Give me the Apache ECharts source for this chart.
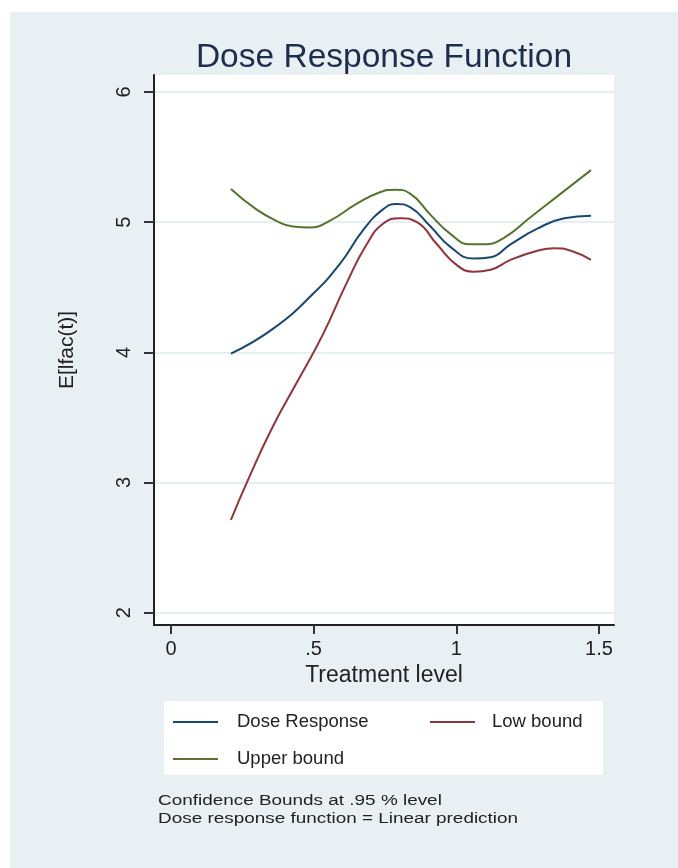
<!DOCTYPE html>
<html><head><meta charset="utf-8">
<script src="https://cdn.jsdelivr.net/npm/echarts@6/dist/echarts.min.js"></script>
<style>html,body{margin:0;padding:0;background:#fff;}#c{width:678px;height:868px;}</style>
</head><body><div id="c"></div>
<script>
// ---- data ----
const doseX = [0.210,0.357,0.498,0.592,0.674,0.744,0.791,0.838,0.908,0.979,1.061,1.120,1.190,1.284,1.378,1.472];
const doseY = [3.99,4.18,4.45,4.68,4.94,5.10,5.14,5.115,4.97,4.81,4.72,4.73,4.83,4.95,5.03,5.05];
const upperX = [0.210,0.298,0.369,0.427,0.486,0.556,0.650,0.732,0.785,0.838,0.908,0.979,1.049,1.096,1.167,1.261,1.355,1.472];
const upperY = [5.255,5.10,5.01,4.967,4.96,5.01,5.14,5.23,5.25,5.22,5.06,4.91,4.83,4.83,4.88,5.04,5.20,5.40];
const lowX = [0.210,0.275,0.357,0.439,0.533,0.615,0.686,0.744,0.803,0.862,0.932,1.002,1.061,1.120,1.190,1.284,1.343,1.402,1.472];
const lowY = [2.714,3.046,3.43,3.76,4.14,4.53,4.83,4.99,5.03,5.00,4.83,4.67,4.62,4.635,4.71,4.78,4.80,4.78,4.71];
const xTicks = [0, 0.5, 1, 1.5];
const xTickLabels = ['0', '.5', '1', '1.5'];
const yTicks = [2, 3, 4, 5, 6];
const seriesNames = ['Dose Response', 'Low bound', 'Upper bound'];
const titleText = 'Dose Response Function';
const xTitle = 'Treatment level';
const yTitle = 'E[lfac(t)]';
const noteLines = ['Confidence Bounds at .95 % level', 'Dose response function = Linear prediction'];

const zip = (xs, ys) => xs.map((x, i) => [x, ys[i]]);
const FONT = 'Liberation Sans';
const colors = {dose: '#1a476f', low: '#90353b', up: '#55752f'};

const chart = echarts.init(document.getElementById('c'), null, {renderer: 'canvas'});
const lineSeries = (name, data, color) => ({
  name, type: 'line', data, smooth: 0.5, showSymbol: false, symbol: 'none',
  lineStyle: {color, width: 2}, itemStyle: {color}, silent: true, z: 3
});
const legendCommon = {
  orient: 'horizontal', padding: 0, icon: 'rect', itemWidth: 45, itemHeight: 2,
  selectedMode: false, textStyle: {fontFamily: FONT, fontSize: 18.5, color: '#222'}
};
chart.setOption({
  backgroundColor: '#ffffff',
  animation: false,
  graphic: [
    {type: 'rect', left: 10, top: 12, shape: {width: 668, height: 856}, style: {fill: '#e8f0f3'}, z: -10, silent: true},
    {type: 'rect', left: 164, top: 701, shape: {width: 439, height: 74}, style: {fill: '#ffffff'}, z: -5, silent: true},
    {type: 'text', x: 158, y: 792, scaleX: 1.22, silent: true, z: 5,
     style: {text: noteLines.join('\n'), font: '15.5px "Liberation Sans"', fill: '#222', lineHeight: 18,
       textAlign: 'left', textVerticalAlign: 'top'}}
  ],
  title: [
    {text: titleText, left: 384, textAlign: 'center', top: 41, padding: 0,
     textStyle: {fontFamily: FONT, fontSize: 33.5, fontWeight: 'normal', color: '#1e2d4d'}}
  ],
  legend: [
    Object.assign({}, legendCommon, {data: [seriesNames[0]], left: 173, top: 712.5,
      textStyle: Object.assign({}, legendCommon.textStyle, {padding: [0, 0, 0, 14]})}),
    Object.assign({}, legendCommon, {data: [seriesNames[1]], left: 430, top: 712.5,
      textStyle: Object.assign({}, legendCommon.textStyle, {padding: [0, 0, 0, 12]})}),
    Object.assign({}, legendCommon, {data: [seriesNames[2]], left: 173, top: 749.5,
      textStyle: Object.assign({}, legendCommon.textStyle, {padding: [0, 0, 0, 14]})})
  ],
  grid: {left: 154, top: 75, width: 460, height: 550, show: true, backgroundColor: '#ffffff', borderWidth: 0, containLabel: false},
  xAxis: {
    type: 'value', min: -0.0596, max: 1.5527,
    name: xTitle, nameLocation: 'middle', nameGap: 37,
    nameTextStyle: {fontFamily: FONT, fontSize: 23, color: '#222'},
    axisLine: {show: true, onZero: false, lineStyle: {color: '#222', width: 2}},
    axisTick: {show: true, length: 9, lineStyle: {color: '#333', width: 2}, customValues: xTicks},
    axisLabel: {show: true, margin: 14, fontFamily: FONT, fontSize: 20, color: '#222', customValues: xTicks,
      formatter: v => { const i = xTicks.findIndex(t => Math.abs(t - v) < 1e-9); return i >= 0 ? xTickLabels[i] : ''; }},
    splitLine: {show: false}
  },
  yAxis: {
    type: 'value', min: 1.9055, max: 6.1306,
    name: yTitle, nameLocation: 'middle', nameGap: 76, nameRotate: 90,
    nameTextStyle: {fontFamily: FONT, fontSize: 21, color: '#222'},
    axisLine: {show: true, onZero: false, lineStyle: {color: '#222', width: 2}},
    axisTick: {show: true, length: 10, lineStyle: {color: '#333', width: 2}, customValues: yTicks},
    axisLabel: {show: true, rotate: 90, margin: 20, fontFamily: FONT, fontSize: 20, color: '#222', customValues: yTicks,
      formatter: v => String(Math.round(v))},
    splitLine: {show: true, lineStyle: {color: '#e6eff2', width: 2}}
  },
  series: [
    lineSeries(seriesNames[0], zip(doseX, doseY), colors.dose),
    lineSeries(seriesNames[1], zip(lowX, lowY), colors.low),
    lineSeries(seriesNames[2], zip(upperX, upperY), colors.up)
  ]
});
</script></body></html>
